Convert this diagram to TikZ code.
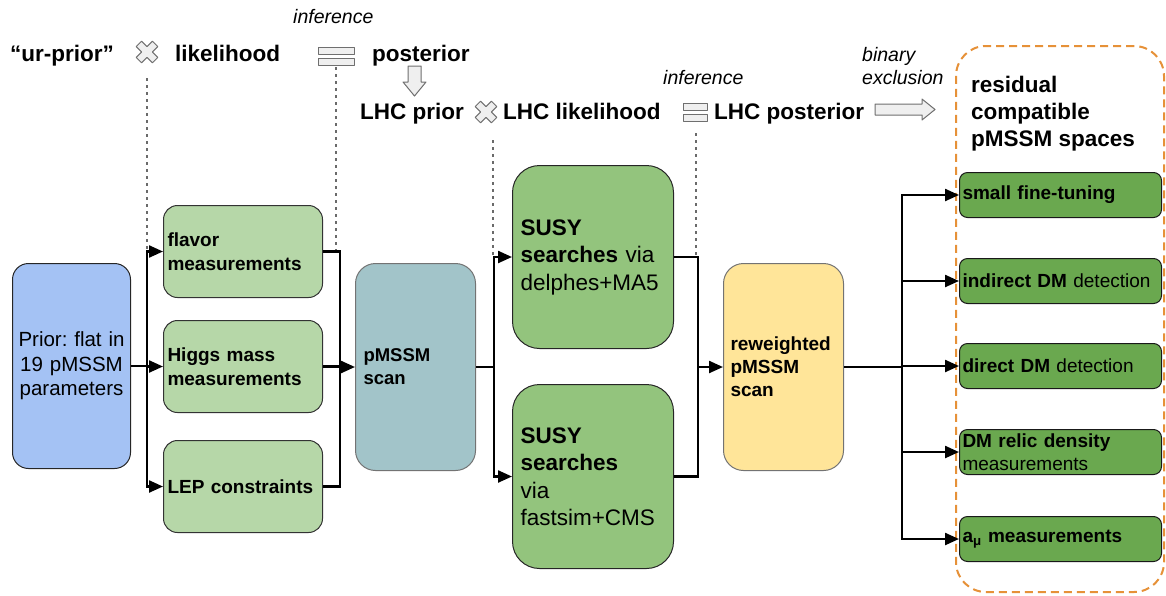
\documentclass[tikz,border=0pt]{standalone}
\usepackage{fontspec}
\setmainfont{Liberation Sans}
\usetikzlibrary{arrows.meta}
\frenchspacing

\definecolor{priorblue}{HTML}{A4C2F4}
\definecolor{lightgreen}{HTML}{B6D7A8}
\definecolor{scanteal}{HTML}{A2C4C9}
\definecolor{susygreen}{HTML}{93C47D}
\definecolor{rewyellow}{HTML}{FFE599}
\definecolor{outgreen}{HTML}{6AA84F}
\definecolor{frameorange}{HTML}{E69138}
\definecolor{iconfill}{HTML}{EFEFEF}
\definecolor{icondraw}{HTML}{6F6F6F}
\definecolor{dotgray}{HTML}{6A6A6A}

\tikzset{
  icon/.style={draw=icondraw, fill=iconfill, line width=1pt, line join=round},
  pics/timesicon/.style={code={
    \draw[icon, rotate=45] (-3.8,-11.5) -- (3.8,-11.5) -- (3.8,-3.8) -- (11.5,-3.8)
      -- (11.5,3.8) -- (3.8,3.8) -- (3.8,11.5) -- (-3.8,11.5) -- (-3.8,3.8)
      -- (-11.5,3.8) -- (-11.5,-3.8) -- (-3.8,-3.8) -- cycle;
  }},
  pics/equalsicon/.style={code={
    \draw[icon] (-#1,-9) rectangle (#1,-2);
    \draw[icon] (-#1,2) rectangle (#1,9);
  }},
}

\begin{document}
\begin{tikzpicture}[x=1pt,y=-1pt,
  boxbase/.style={anchor=north west, inner ysep=0pt, line width=1pt},
  priorbox/.style={boxbase, draw=black!85, fill=priorblue, rounded corners=16pt,
    inner xsep=4pt, align=center, font=\fontsize{20.5}{24.5}\selectfont},
  lgbox/.style={boxbase, draw=black!80, fill=lightgreen, rounded corners=14pt,
    inner xsep=4pt, align=left, font=\fontsize{19}{23.5}\selectfont\bfseries},
  scanbox/.style={boxbase, draw=black!55, fill=scanteal, rounded corners=20pt,
    inner xsep=8pt, align=left, font=\fontsize{18.5}{23}\selectfont\bfseries},
  susybox/.style={boxbase, draw=black!85, fill=susygreen, rounded corners=27pt,
    inner xsep=8pt, align=left, font=\fontsize{22.5}{27.5}\selectfont},
  rewbox/.style={boxbase, draw=black!55, fill=rewyellow, rounded corners=20pt,
    inner xsep=7pt, align=left, font=\fontsize{19}{23}\selectfont\bfseries},
  outbox/.style={boxbase, draw=black!90, fill=outgreen, rounded corners=8pt,
    inner xsep=3pt, align=left, minimum width=202pt, text width=196pt,
    minimum height=45pt, font=\fontsize{19}{23}\selectfont},
  frame/.style={anchor=north west, draw=frameorange, line width=2pt,
    dash pattern=on 8pt off 5pt, rounded corners=30pt, inner sep=0pt},
  toplabel/.style={anchor=base west, inner sep=0pt,
    font=\fontsize{22.5}{27}\selectfont\bfseries},
  note/.style={inner sep=0pt, align=left,
    font=\fontsize{19.5}{23}\selectfont\itshape},
  line/.style={draw=black, line width=2.3pt},
  arr/.style={line, -{Triangle[length=14pt,width=12pt]}},
  dots/.style={draw=dotgray, line width=2pt, dash pattern=on 2.5pt off 4.5pt},
]
\useasboundingbox (0,0) rectangle (1166,595);

% ---------- top row: Bayesian bookkeeping ----------
\node[toplabel] (urprior) at (10,61) {“ur-prior”};
\pic at (147,52) {timesicon};
\coordinate (mul1) at (147,52);
\node[toplabel] (like) at (175,61) {likelihood};
\pic at (336,56) {equalsicon=18};
\coordinate (eq1) at (336,56);
\node[note, anchor=base west] (inf1) at (293,23) {inference};
\node[toplabel] (post) at (372,61) {posterior};
\draw[icon] (408,66) -- (421,66) -- (421,82) -- (426,82) -- (414.5,96) -- (403,82)
  -- (408,82) -- cycle;

\node[toplabel] (lhcprior) at (360,119) {LHC prior};
\pic at (486,112) {timesicon};
\coordinate (mul2) at (493,140);
\node[toplabel] (lhclike) at (503,119) {LHC likelihood};
\pic at (695,112) {equalsicon=12};
\coordinate (eq2) at (696,133);
\node[note, anchor=base west] (inf2) at (663,84) {inference};
\node[toplabel] (lhcpost) at (714,119) {LHC posterior};
\node[note, anchor=north west] (binary) at (862,47) {binary\\exclusion};
\draw[icon] (875,104) -- (922,104) -- (922,99) -- (935,109.5) -- (922,120) -- (922,115)
  -- (875,115) -- cycle;

% ---------- output frame ----------
\node[frame, minimum width=208pt, minimum height=546pt] (spaces) at (955,45) {};
\node[anchor=north west, inner sep=0pt, align=left,
  font=\fontsize{22.5}{27}\selectfont\bfseries] (spacestitle) at (971,76)
  {residual\\compatible\\pMSSM spaces};

% ---------- boxes ----------
\node[priorbox, minimum width=118pt, text width=110pt, minimum height=205pt] (prior)
  at (12,263) {Prior: flat in\\19 pMSSM\\parameters};

\node[lgbox, minimum width=159pt, text width=151pt, minimum height=92pt] (flavor)
  at (163,205) {flavor\\measurements};
\node[lgbox, minimum width=159pt, text width=151pt, minimum height=92pt] (higgs)
  at (163,320) {Higgs mass\\measurements};
\node[lgbox, minimum width=159pt, text width=151pt, minimum height=92pt] (lep)
  at (163,440) {LEP constraints};

\node[scanbox, minimum width=120pt, text width=104pt, minimum height=207pt] (scan)
  at (355,263) {pMSSM\\scan};

\node[susybox, minimum width=161pt, text width=145pt, minimum height=183pt] (susyA)
  at (512,165) {\textbf{SUSY}\\\textbf{searches} via\\delphes+MA5};
\node[susybox, minimum width=161pt, text width=145pt, minimum height=184pt] (susyB)
  at (512,384) {\textbf{SUSY}\\\textbf{searches}\\via\\fastsim+CMS};

\node[rewbox, minimum width=120pt, text width=106pt, minimum height=207pt] (rew)
  at (723,263) {reweighted\\pMSSM\\scan};

\node[outbox] (o1) at (959,172) {\textbf{small fine-tuning}};
\node[outbox] (o2) at (959,258) {\textbf{indirect DM} detection};
\node[outbox] (o3) at (959,343) {\textbf{direct DM} detection};
\node[outbox] (o4) at (959,429) {\textbf{DM relic density}\\measurements};
\node[outbox] (o5) at (959,516) {\textbf{a\textsubscript{μ} measurements}};

% ---------- dotted guides from the top row ----------
\draw[dots] ([yshift=-26pt]mul1) -- (mul1 |- flavor.west);
\draw[dots] ([yshift=-11pt]eq1) -- (eq1 |- flavor.east);
\draw[dots] (mul2) -- (mul2 |- susyA.west);
\draw[dots] (eq2) -- (eq2 |- susyA.east);

% ---------- connectors ----------
\path (prior.east) ++(16,0) coordinate (splitA);
\path (scan.west) ++(-15,0) coordinate (joinA);
\path (scan.east) ++(18,0) coordinate (splitB);
\path (rew.west) ++(-25,0) coordinate (joinB);
\path (rew.east) ++(58,0) coordinate (splitC);

\draw[line] (prior.east) -- (splitA);
\draw[arr] (splitA) |- (flavor.west);
\draw[arr] (splitA) |- (higgs.west);
\draw[arr] (splitA) |- (lep.west);

\draw[line] (flavor.east) -| (joinA);
\draw[line] (higgs.east) -| (joinA);
\draw[line] (lep.east) -| (joinA);
\draw[arr] (joinA) -- (scan.west);

\draw[line] (scan.east) -- (splitB);
\draw[arr] (splitB) |- (susyA.west);
\draw[arr] (splitB) |- (susyB.west);

\draw[line] (susyA.east) -| (joinB);
\draw[line] (susyB.east) -| (joinB);
\draw[arr] (joinB) -- (rew.west);

\draw[line] (rew.east) -- (splitC);
\draw[arr] (splitC) |- (o1.west);
\draw[arr] (splitC) |- (o2.west);
\draw[arr] (splitC) |- (o3.west);
\draw[arr] (splitC) |- (o4.west);
\draw[arr] (splitC) |- (o5.west);
\end{tikzpicture}
\end{document}
